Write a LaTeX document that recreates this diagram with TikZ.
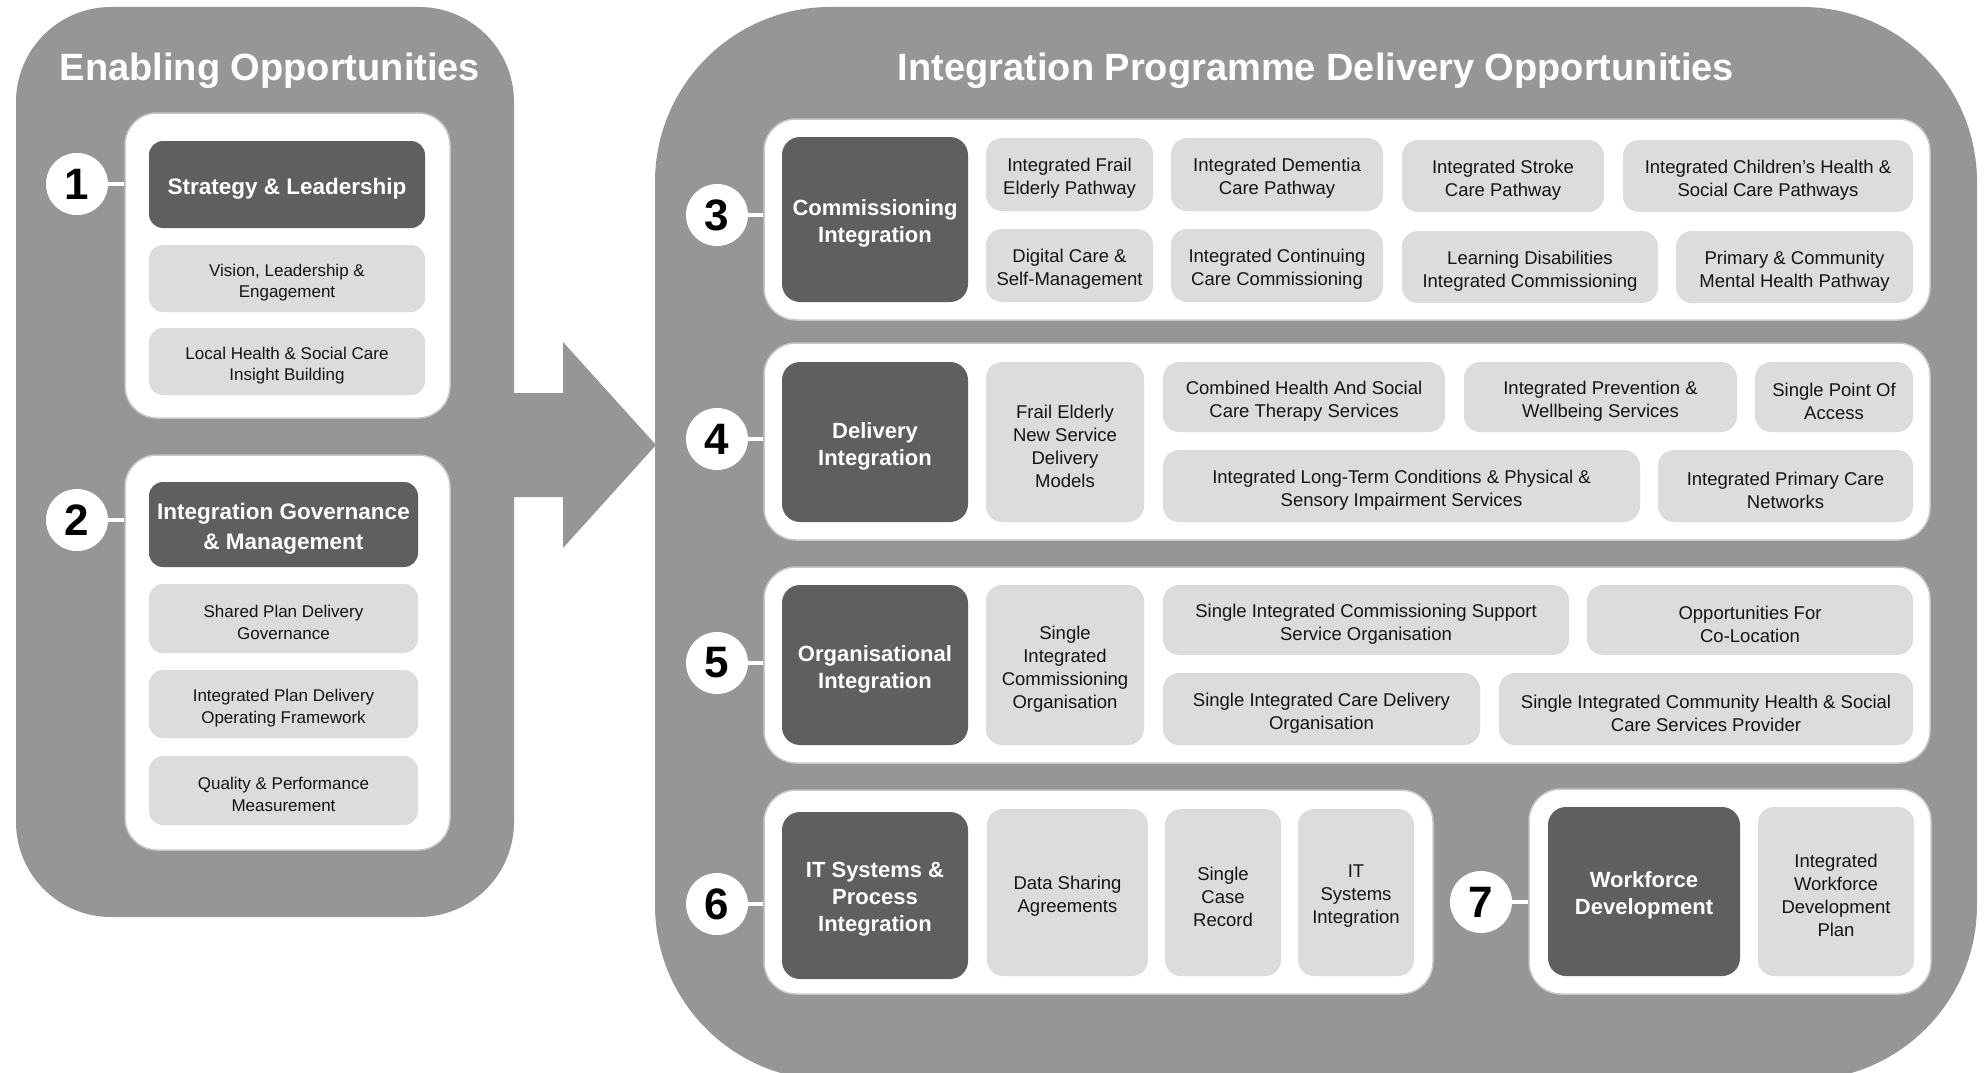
\documentclass[tikz,border=0pt]{standalone}
\usepackage{fontspec}
\setmainfont{Liberation Sans}
\definecolor{pgray}{HTML}{969696}
\definecolor{dgray}{HTML}{5F5F5F}
\definecolor{lgray}{HTML}{DCDCDC}
\definecolor{wedge}{HTML}{C8C8C8}
\definecolor{ink}{HTML}{141414}
\newcommand\BX[7]{\node[#6, minimum width={(#4-#2)*1pt}, minimum height={(#5-#3)*1pt}] (#1) at ({(#2+#4)/2},{(#3+#5)/2}) {};
  \node[#6, fill=none, draw=none, minimum width=0pt, minimum height=0pt] (#1-t) at ([yshift=-4pt]#1.center) {#7};}
\tikzset{
  panel/.style={fill=pgray, draw=none},
  wbox/.style={rectangle, fill=white, draw=wedge, line width=1.5pt, rounded corners=32pt, inner sep=0pt},
  dbox/.style={rectangle, fill=dgray, rounded corners=18pt, text=white, inner sep=0pt, align=center, font=\bfseries\fontsize{22}{27}\selectfont},
  dboxl/.style={dbox, rounded corners=14pt, font=\bfseries\fontsize{22.5}{30}\selectfont},
  lbox/.style={rectangle, fill=lgray, rounded corners=16pt, text=ink, inner sep=0pt, align=center, font=\fontsize{18.5}{23}\selectfont},
  lboxl/.style={lbox, rounded corners=14pt, font=\fontsize{17}{21.5}\selectfont},
  num/.style={circle, fill=white, minimum size=62pt, inner sep=0pt, text=black, font=\bfseries\fontsize{44}{44}\selectfont},
  conn/.style={draw=white, line width=4.5pt},
  ttl/.style={text=white, inner sep=0pt, font=\bfseries\fontsize{38}{44}\selectfont}
}
\begin{document}
\begin{tikzpicture}[x=1pt,y=-1pt]
\useasboundingbox (0,0) rectangle (1984,1073);
\fill[white] (0,0) rectangle (1984,1073);
% panels
\fill[panel, rounded corners=95pt] (16,7) rectangle (514,917);
\begin{scope}
\clip (0,0) rectangle (1984,1073);
\fill[panel, rounded corners=175pt] (655,7) rectangle (1977,1080);
\end{scope}
% arrow
\fill[panel] (505,393) -- (563,393) -- (563,342) -- (656,445) -- (563,548) -- (563,497) -- (505,497) -- cycle;
% titles
\node[ttl, anchor=base] (t1) at (270,81) {Enabling Opportunities};
\node[ttl, anchor=base] (t2) at (1316,81) {Integration Programme Delivery Opportunities};
% ---------- left panel ----------
\BX{w1}{125}{113}{450}{418}{wbox}{}
\BX{d1}{149}{141}{425}{228}{dboxl}{Strategy \& Leadership}
\BX{l1a}{149}{245}{425}{312}{lboxl}{Vision, Leadership \&\\Engagement}
\BX{l1b}{149}{328}{425}{395}{lboxl}{Local Health \& Social Care\\Insight Building}
\BX{w2}{125}{455}{450}{850}{wbox}{}
\BX{d2}{149}{482}{418}{567}{dboxl}{Integration Governance\\\& Management}
\BX{l2a}{149}{584}{418}{653}{lboxl}{Shared Plan Delivery\\Governance}
\BX{l2b}{149}{670}{418}{738}{lboxl}{Integrated Plan Delivery\\Operating Framework}
\BX{l2c}{149}{756}{418}{825}{lboxl}{Quality \& Performance\\Measurement}
\node[num] (n1) at (77,184) {\raisebox{-2pt}{1}};
\node[num] (n2) at (77,520) {\raisebox{-2pt}{2}};
\draw[conn] (n1.east) -- (n1.east -| w1.west);
\draw[conn] (n2.east) -- (n2.east -| w2.west);
% ---------- row 3 ----------
\BX{w3}{764}{119}{1930}{320}{wbox}{}
\BX{d3}{782}{137}{968}{302}{dbox}{Commissioning\\Integration}
\BX{a1}{986}{138}{1153}{211}{lbox}{Integrated Frail\\Elderly Pathway}
\BX{a2}{1171}{138}{1383}{211}{lbox}{Integrated Dementia\\Care Pathway}
\BX{a3}{1402}{140}{1604}{212}{lbox}{Integrated Stroke\\Care Pathway}
\BX{a4}{1623}{140}{1913}{212}{lbox}{Integrated Children’s Health \&\\Social Care Pathways}
\BX{b1}{986}{229}{1153}{302}{lbox}{Digital Care \&\\Self-Management}
\BX{b2}{1171}{229}{1383}{302}{lbox}{Integrated Continuing\\Care Commissioning}
\BX{b3}{1402}{231}{1658}{303}{lbox}{Learning Disabilities\\Integrated Commissioning}
\BX{b4}{1676}{231}{1913}{303}{lbox}{Primary \& Community\\Mental Health Pathway}
% ---------- row 4 ----------
\BX{w4}{764}{343}{1930}{540}{wbox}{}
\BX{d4}{782}{362}{968}{522}{dbox}{Delivery\\Integration}
\BX{c1}{986}{362}{1144}{522}{lbox}{Frail Elderly\\New Service\\Delivery\\Models}
\BX{c2}{1163}{362}{1445}{432}{lbox}{Combined Health And Social\\Care Therapy Services}
\BX{c3}{1464}{362}{1737}{432}{lbox}{Integrated Prevention \&\\Wellbeing Services}
\BX{c4}{1755}{362}{1913}{432}{lbox}{Single Point Of\\Access}
\BX{e1x}{1163}{450}{1640}{522}{lbox}{Integrated Long-Term Conditions \& Physical \&\\Sensory Impairment Services}
\BX{e2x}{1658}{450}{1913}{522}{lbox}{Integrated Primary Care\\Networks}
% ---------- row 5 ----------
\BX{w5}{764}{567}{1930}{763}{wbox}{}
\BX{d5}{782}{585}{968}{745}{dbox}{Organisational\\Integration}
\BX{f1}{986}{585}{1144}{745}{lbox}{Single\\Integrated\\Commissioning\\Organisation}
\BX{f2}{1163}{585}{1569}{655}{lbox}{Single Integrated Commissioning Support\\Service Organisation}
\BX{f3}{1587}{585}{1913}{655}{lbox}{Opportunities For\\Co-Location}
\BX{f4}{1163}{673}{1480}{745}{lbox}{Single Integrated Care Delivery\\Organisation}
\BX{f5}{1499}{673}{1913}{745}{lbox}{Single Integrated Community Health \& Social\\Care Services Provider}
% ---------- row 6 ----------
\BX{w6}{764}{790}{1433}{994}{wbox}{}
\BX{d6}{782}{812}{968}{979}{dbox}{IT Systems \&\\Process\\Integration}
\BX{g1}{987}{809}{1148}{976}{lbox}{Data Sharing\\Agreements}
\BX{g2}{1165}{809}{1281}{976}{lbox}{Single\\Case\\Record}
\BX{g3}{1298}{809}{1414}{976}{lbox}{IT\\Systems\\Integration}
% ---------- row 7 ----------
\BX{w7}{1529}{789}{1931}{994}{wbox}{}
\BX{d7}{1548}{807}{1740}{976}{dbox}{Workforce\\Development}
\BX{h1}{1758}{807}{1914}{976}{lbox}{Integrated\\Workforce\\Development\\Plan}
% numbers
\node[num] (n3) at (717,215) {\raisebox{-2pt}{3}};
\node[num] (n4) at (717,439) {\raisebox{-2pt}{4}};
\node[num] (n5) at (717,663) {\raisebox{-2pt}{5}};
\node[num] (n6) at (717,904) {\raisebox{-2pt}{6}};
\node[num] (n7) at (1481,902) {\raisebox{-2pt}{7}};
\draw[conn] (n3.east) -- (n3.east -| w3.west);
\draw[conn] (n4.east) -- (n4.east -| w4.west);
\draw[conn] (n5.east) -- (n5.east -| w5.west);
\draw[conn] (n6.east) -- (n6.east -| w6.west);
\draw[conn] (n7.east) -- (n7.east -| w7.west);
\end{tikzpicture}
\end{document}
